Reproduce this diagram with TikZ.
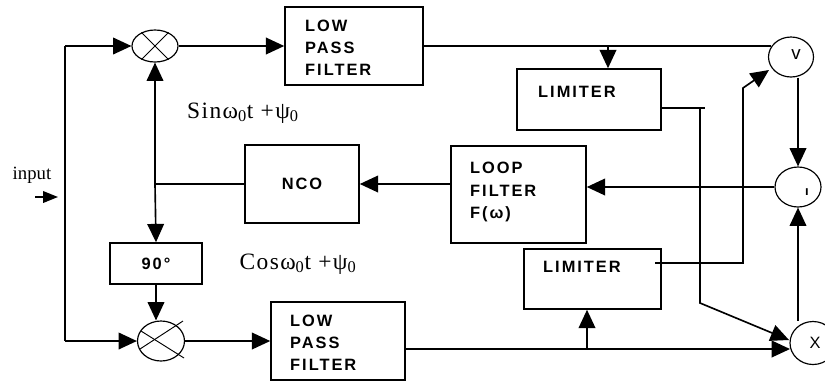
\documentclass[tikz,border=0pt]{standalone}
\usepackage{fontspec}
\setmainfont{Liberation Serif}
\newfontfamily\pixfont[LetterSpace=12]{Liberation Sans}
\newfontfamily\sigfont[LetterSpace=6]{Liberation Serif}
\usetikzlibrary{arrows.meta,shapes.geometric}

\begin{document}
\begin{tikzpicture}[
  x=0.03cm,y=-0.03cm,
  blk/.style={draw,line width=1.3pt,fill=white,inner sep=0pt},
  txt/.style={font=\pixfont\bfseries\fontsize{14}{19}\selectfont,align=left,anchor=west,inner sep=0pt},
  ctxt/.style={font=\pixfont\bfseries\fontsize{14}{19}\selectfont,inner sep=0pt},
  sig/.style={font=\sigfont\fontsize{20}{22}\selectfont,inner sep=0pt},
  mul/.style={draw,ellipse,line width=1pt,inner sep=0pt},
  ln/.style={line width=1.4pt},
  fl/.style={-{Triangle[length=5.5mm,width=5mm]},line width=1.4pt},
  fli/.style={-{Triangle[length=4.5mm,width=3.5mm]},line width=1.4pt},
  xl/.style={line width=0.8pt},
]
\useasboundingbox (0,0) rectangle (825,381);
% blocks
\node[blk,minimum width=138*0.3mm,minimum height=78*0.3mm] (lpfI) at (354,46) {};
\node[blk,minimum width=134*0.3mm,minimum height=78*0.3mm] (lpfQ) at (338,341) {};
\node[blk,minimum width=144*0.3mm,minimum height=61*0.3mm] (limI) at (589,99.5) {};
\node[blk,minimum width=137*0.3mm,minimum height=60*0.3mm] (limQ) at (592.5,279) {};
\node[blk,minimum width=114*0.3mm,minimum height=78*0.3mm] (nco) at (302,184) {};
\node[blk,minimum width=135*0.3mm,minimum height=97*0.3mm] (loopf) at (518.5,194.5) {};
\node[blk,minimum width=92*0.3mm,minimum height=41*0.3mm] (ph90) at (156,263.5) {};
\node[txt] (lpfI-t) at (305,48) {LOW\\PASS\\FILTER};
\node[txt] (lpfQ-t) at (290,343) {LOW\\PASS\\FILTER};
\node[txt] (limI-t) at (538,92) {LIMITER};
\node[txt] (limQ-t) at (543,267) {LIMITER};
\node[txt] (loopf-t) at (470,192) {LOOP\\FILTER\\F(ω)};
\node[ctxt] (nco-t) at (302,184) {NCO};
\node[ctxt] (ph90-t) at (156,264) {90°};
% mixers and circles
\node[mul,minimum width=46*0.3mm,minimum height=32*0.3mm] (mixI) at (155,46) {};
\node[mul,minimum width=47*0.3mm,minimum height=40*0.3mm] (mixQ) at (161,341) {};
\node[mul,minimum width=45*0.3mm,minimum height=40*0.3mm] (sq) at (791,57) {};
\node[mul,minimum width=46*0.3mm,minimum height=40*0.3mm] (mid) at (798,187) {};
\node[mul,minimum width=46*0.3mm,minimum height=43*0.3mm] (bot) at (813,343) {};
\draw[xl] (mixI.45) -- (mixI.225) (mixI.135) -- (mixI.315);
\draw[xl] ([shift={(-21,8)}]mixQ.center) -- ([shift={(22,-20)}]mixQ.center);
\draw[xl] ([shift={(-20,-10)}]mixQ.center) -- ([shift={(23,17)}]mixQ.center);
\node[font=\pixfont\fontsize{16}{16}\selectfont] (sq-t) at (796,55) {v};
\node[font=\pixfont\bfseries\fontsize{11}{11}\selectfont] (mid-t) at (807,192) {ı};
\node[font=\pixfont\fontsize{14}{14}\selectfont] (bot-t) at (815,343) {X};
% labels
\node[font=\fontsize{16}{18}\selectfont] (inp) at (32,175) {input};
\node[sig] (sinl) at (243,113) {Sinω\textsubscript{0}t +ψ\textsubscript{0}};
\node[sig] (cosl) at (298,264) {Cosω\textsubscript{0}t +ψ\textsubscript{0}};
% input and left rail
\coordinate (in0) at (35,197);
\coordinate (in1) at (58,197);
\coordinate (ltop) at (65,46);
\coordinate (lbot) at (65,341);
\draw[fli] (in0) -- (in1);
\draw[ln] (ltop) -- (lbot);
\draw[fl] (ltop) -- (mixI);
\draw[fl] (lbot) -- (mixQ);
% I branch
\draw[fl] (mixI) -- (lpfI);
\draw[ln] (lpfI.east) -- (lpfI.east -| sq.155);
\coordinate (tapI) at (608,46);
\draw[fl] (tapI) -- (tapI |- limI.north);
\coordinate (oI0) at (661,108);
\coordinate (oI1) at (705,108);
\coordinate (oI2) at (700,108);
\coordinate (oI3) at (700,303);
\coordinate (oI4) at (789,340);
\draw[ln] (oI0) -- (oI1);
\draw[fl] (oI2) -- (oI3) -- (oI4);
% Q branch
\draw[fl] (mixQ) -- (lpfQ);
\coordinate (oQ0) at (405,349);
\coordinate (oQ1) at (790,349);
\draw[fl] (oQ0) -- (oQ1);
\coordinate (tapQ) at (587,349);
\draw[fl] (tapQ) -- (tapQ |- limQ.south);
\coordinate (lQ0) at (655,263);
\coordinate (lQ1) at (743,263);
\coordinate (lQ2) at (743,88);
\coordinate (lQ3) at (769,70);
\draw[fl] (lQ0) -- (lQ1) -- (lQ2) -- (lQ3);
% right column
\draw[fl] (sq.south -| mid.north) -- (mid.north);
\draw[fl] (mid.south |- bot.north) -- (mid.south);
% loop
\draw[fl] (mid.west) -- (mid.west -| loopf.east);
\draw[fl] (loopf.west |- nco.east) -- (nco.east);
\coordinate (jn) at (155,184);
\draw[ln] (nco.west) -- (jn);
\draw[fl] (jn) -- (mixI.south);
\draw[fl] (jn) -- (ph90.north);
\draw[fl] (ph90.south) -- (ph90.south |- mixQ.north);
\end{tikzpicture}
\end{document}
